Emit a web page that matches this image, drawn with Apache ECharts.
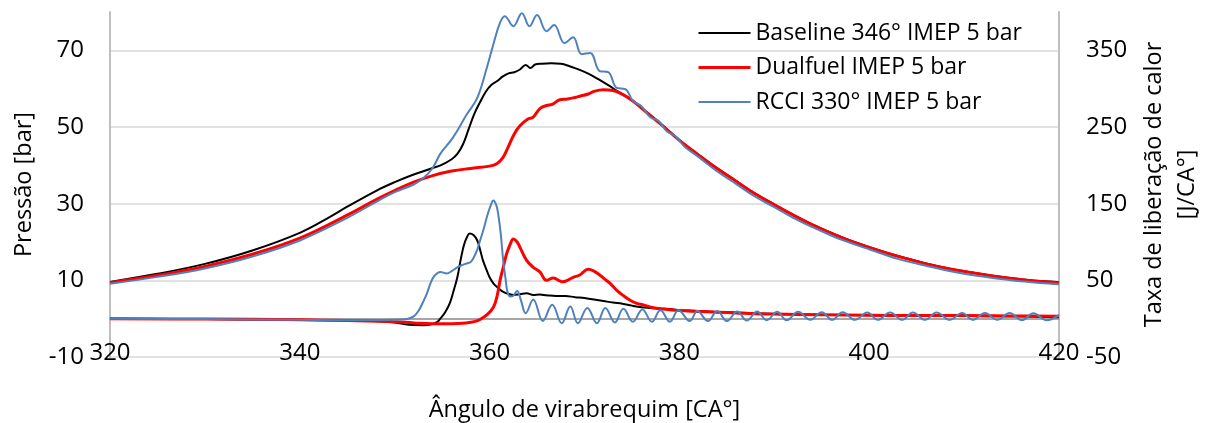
<!DOCTYPE html>
<html><head><meta charset="utf-8">
<script src="https://cdn.jsdelivr.net/npm/echarts@6/dist/echarts.min.js"></script>
<style>html,body{margin:0;padding:0;background:#fff}#c{width:1205px;height:423px}</style>
</head><body><div id="c"></div>
<script>
// ---------- labels ----------
const seriesNames = ['Baseline 346° IMEP 5 bar', 'Dualfuel IMEP 5 bar', 'RCCI 330° IMEP 5 bar'];
const xTitle = 'Ângulo de virabrequim [CA°]';
const yLeftTitle = 'Pressão [bar]';
const yRightTitle = 'Taxa de liberação de calor\n[J/CA°]';
const leftTicks = [-10, 10, 30, 50, 70];
const rightTicks = [-50, 50, 150, 250, 350];

// ---------- pressure [bar] : [crank angle, value] ----------
const baselinePressure = [
  [320,9.6],[325,11.7],[330,14.3],[335,17.8],[340,22.4],[343,26.3],[345,29.2],[348,33.3],[350,35.6],
  [352,37.6],[354,39.3],[355,40.2],[356,41.6],[356.6,43.0],[357.2,45.5],[357.8,49.5],[358.4,53.5],
  [359,56.5],[359.6,59.2],[360.2,61.0],[360.8,62.0],[361.4,63.2],[362,64.0],[362.6,64.3],[363.2,65.0],
  [363.8,66.2],[364.3,65.4],[364.8,66.3],[365.5,66.5],[366.5,66.6],[367.5,66.5],[368.5,65.8],[369.5,64.9],
  [370.5,63.8],[371.5,62.4],[372.5,60.9],[373.5,59.3],[374.5,57.8],[375.5,56.0],[376.5,54.0],[378,50.9],
  [380,46.6],[382,42.8],[384,39.2],[386,35.9],[388,32.6],[390,29.8],[392,27.1],[394,24.6],[396,22.4],
  [398,20.4],[400,18.7],[402,17.1],[404,15.7],[406,14.4],[408,13.3],[410,12.4],[412,11.6],[414,10.9],
  [416,10.3],[418,9.8],[420,9.5]
];
const dualfuelPressure = [
  [320,9.4],[325,11.3],[330,13.6],[335,16.8],[340,21.0],[345,27.0],[348,31.0],[350,33.4],[352,35.6],
  [354,37.3],[356,38.5],[358,39.2],[360,39.8],[360.8,40.5],[361.4,42.0],[362,45.0],[362.6,48.2],
  [363.2,50.3],[364,52.0],[364.6,52.6],[365.3,54.8],[366,55.6],[366.6,55.9],[367.4,57.1],[368.2,57.3],
  [369,57.7],[369.6,58.1],[370.4,58.6],[371,59.3],[372,59.7],[373,59.5],[374,58.5],[375,57.0],[376,54.9],
  [378,50.8],[380,46.5],[382,42.7],[384,39.1],[386,35.8],[388,32.5],[390,29.7],[392,27.0],[394,24.5],
  [396,22.3],[398,20.3],[400,18.6],[402,17.0],[404,15.6],[406,14.3],[408,13.2],[410,12.3],[412,11.5],
  [414,10.8],[416,10.2],[418,9.7],[420,9.4]
];
const rcciPressure = [
  [320,9.1],[325,10.9],[330,13.1],[335,16.2],[340,20.4],[345,26.3],[348,30.4],[350,33.0],[352,35.0],
  [353,36.6],[354,39.3],[354.8,43.0],[356.1,47.1],[357.6,53.3],[358.7,57.6],[359.7,65.4],[360.4,71.6],
  [361.1,77.2],[361.6,78.9],[362.5,76.3],[363.4,79.7],[364.2,76.3],[365.0,79.2],[366.0,75.0],[366.8,76.6],
  [367.9,71.9],[368.8,73.4],[369.7,69.0],[370.6,69.3],[371.6,64.6],[372.5,64.3],[373.4,60.2],[374.3,59.9],
  [375.1,56.8],[376.0,55.4],[376.9,52.6],[377.8,51.6],[378.7,48.8],[379.6,47.6],[380.5,45.0],[382,42.2],
  [384,38.4],[386,35.1],[388,31.8],[390,29.1],[392,26.3],[394,23.9],[396,21.7],[398,19.8],[400,18.1],
  [403,15.6],[406,13.8],[409,12.2],[412,11.0],[415,10.0],[418,9.3],[420,9.0]
];

// ---------- heat release rate [J/CA°] : [crank angle, value] ----------
const baselineHRR = [
  [320,0],[330,-0.5],[340,-1.5],[345,-2],[348,-3],[350,-5],[351.5,-8],[353,-8.5],[354,-7],[354.5,-4],
  [354.8,0],[355.3,8],[355.8,20],[356.2,36],[356.6,54],[357.0,80],[357.3,96],[357.6,106],[357.9,111],
  [358.3,109],[358.7,102],[359.0,90],[359.3,76],[359.7,63],[360.0,54],[360.4,46],[360.8,41],[361.3,36],
  [361.8,33],[362.5,31],[363.2,32],[363.9,33],[364.6,31],[365.3,31.5],[366,30.5],[367,29.5],[368,29.5],
  [369,28],[370,27],[371,25],[372,23],[373,21],[374,19.5],[375,17],[376,15],[377,14],[378,13],[379,12.5],
  [380,11],[381,10.5],[382,10],[383,9.5],[384,8.6],[386,8],[388,7],[390,6],[393,5.5],[396,5],[400,4.5],
  [405,4],[410,3.5],[415,3],[420,2]
];
const dualfuelHRR = [
  [320,0],[330,-0.5],[340,-1.5],[345,-2.5],[350,-4],[352,-5.5],[354,-6.5],[356,-6.5],[357.5,-5.5],
  [358.5,-3.5],[359,-1],[359.7,5],[360.4,15],[360.8,30],[361.1,50],[361.5,70],[361.8,85],[362.2,98],
  [362.5,104],[362.9,100],[363.2,93],[363.9,76],[364.6,67],[365.3,61],[366,50],[366.7,53],[367.7,48],
  [368.8,54],[369.5,57],[370.4,64.5],[371,62],[371.6,57],[372.2,51],[372.7,46],[373.4,37],[374.1,30],
  [374.8,24],[375.5,20],[376.2,18],[377,15],[378.3,12.5],[380,10.5],[382,9.5],[384,8.5],[386,7.5],
  [388,6.5],[390,6],[395,5],[400,4.5],[405,4],[410,4],[415,3.5],[420,3]
];
const rcciHRR = [
  [320,0],[330,-0.5],[340,-1.5],[345,-2],[350,-1.5],[351.3,-0.5],[352.0,3],[352.5,10],[353.0,22],
  [353.4,33],[353.8,47],[354.2,56],[354.8,61],[355.5,59],[356.0,62],[356.6,67],[357.1,70],[357.6,72],
  [358.0,74],[358.3,79],[358.7,90],[359.0,102],[359.4,118],[359.7,132],[360.1,147],[360.4,154],
  [360.7,148],[360.9,137],[361.2,108],[361.4,80],[361.7,50],[361.9,34],[362.2,29],[362.5,30],[362.9,36],
  [363.3,24],[363.8,7],[364.6,25],[365.6,-3],[366.6,18],[367.6,-6],[368.5,16],[369.3,-6],[370.3,14],
  [371.3,-6],[372.2,14],[373.2,-5],[374.1,13],[375.1,-4],[376.1,12],[377.1,-4],[378.0,11],[379.0,-4],
  [379.9,11],[381.1,-3],[381.9,10],[383.0,-3],[384.0,10],[385.0,-3],[386.1,9.5],[387.1,-2.5],[388.2,9.5],
  [389.2,-2],[390.3,9],[391.3,-2],[392.5,9],[393.8,-1.5],[395.0,8.5],[396.1,-1.5],[397.2,8.5],[398.5,-1.5],
  [399.8,8],[400.9,-1.5],[402.2,8],[403.5,-1.5],[404.6,8],[405.9,-1.5],[407.1,8],[408.5,-1.5],[409.8,7.5],
  [410.9,-1.5],[412.2,7.5],[413.5,-1.5],[414.8,7.5],[416.1,-2],[417.3,7],[418.7,-2],[420.0,5]
];

const colors = ['#000000', '#ff0000', '#4f81bd'];
const widths = [2, 3, 2];
const FONT = "'Open Sans', sans-serif";
const TICK_FS = 24;
const TEXT_FS = 23.5;

function mk(name, data, axis, i) {
  return {
    name: name, type: 'line', data: data, xAxisIndex: 0, yAxisIndex: axis,
    symbol: 'none', smooth: 0.4, z: 2 + i,
    lineStyle: { color: colors[i], width: widths[i] }, itemStyle: { color: colors[i] }
  };
}

const chart = echarts.init(document.getElementById('c'), null, { renderer: 'canvas' });
chart.setOption({
  animation: false,
  backgroundColor: '#ffffff',
  textStyle: { fontFamily: FONT },
  grid: { left: 110, right: 146, top: 12, bottom: 66, containLabel: false, outerBoundsMode: 'none' },
  legend: {
    data: seriesNames.map((n, i) => ({ name: n, lineStyle: { width: widths[i], color: colors[i] } })),
    orient: 'vertical', left: 697, top: 21, padding: 0,
    itemWidth: 52, itemHeight: 14, itemGap: 10.5,
    itemStyle: { opacity: 0, borderWidth: 0, color: 'rgba(0,0,0,0)' },
    textStyle: { fontFamily: FONT, fontSize: 23, color: '#000', lineHeight: 24 }
  },
  xAxis: [{
    type: 'value', min: 320, max: 420, interval: 20, position: 'bottom',
    axisLine: { show: false, onZero: false }, axisTick: { show: false }, splitLine: { show: false },
    axisLabel: { fontFamily: FONT, fontSize: TICK_FS, color: '#000', margin: -4, verticalAlign: 'middle' },
    name: xTitle, nameLocation: 'middle', nameGap: 41,
    nameTextStyle: { fontFamily: FONT, fontSize: TEXT_FS, color: '#000' }
  }, {
    type: 'value', min: 320, max: 420, interval: 20, position: 'bottom',
    axisLine: { show: true, onZero: true, onZeroAxisIndex: 0, lineStyle: { color: '#a6a6a6', width: 2 } },
    axisTick: { show: false }, axisLabel: { show: false }, splitLine: { show: false }
  }],
  yAxis: [{
    type: 'value', min: -10, max: 80, position: 'left',
    axisLine: { show: true, onZero: false, lineStyle: { color: '#bfbfbf', width: 2 } },
    axisTick: { show: false, customValues: leftTicks },
    axisLabel: { customValues: leftTicks, fontFamily: FONT, fontSize: TICK_FS, color: '#000', margin: 26 },
    splitLine: { show: true, lineStyle: { color: '#d9d9d9', width: 1.5 } },
    name: yLeftTitle, nameLocation: 'middle', nameGap: 74,
    nameTextStyle: { fontFamily: FONT, fontSize: TEXT_FS, color: '#000' }
  }, {
    type: 'value', min: -50, max: 400, position: 'right',
    axisLine: { show: true, onZero: false, lineStyle: { color: '#bfbfbf', width: 2 } },
    axisTick: { show: false, customValues: rightTicks },
    axisLabel: { customValues: rightTicks, fontFamily: FONT, fontSize: TICK_FS, color: '#000', margin: 27 },
    splitLine: { show: false },
    name: yRightTitle, nameLocation: 'middle', nameGap: 76,
    nameTextStyle: { fontFamily: FONT, fontSize: TEXT_FS, color: '#000', lineHeight: 33 }
  }],
  series: [
    mk(seriesNames[0], baselinePressure, 0, 0),
    mk(seriesNames[1], dualfuelPressure, 0, 1),
    mk(seriesNames[2], rcciPressure, 0, 2),
    mk(seriesNames[0], baselineHRR, 1, 0),
    mk(seriesNames[1], dualfuelHRR, 1, 1),
    mk(seriesNames[2], rcciHRR, 1, 2)
  ]
});
</script>
</body></html>
